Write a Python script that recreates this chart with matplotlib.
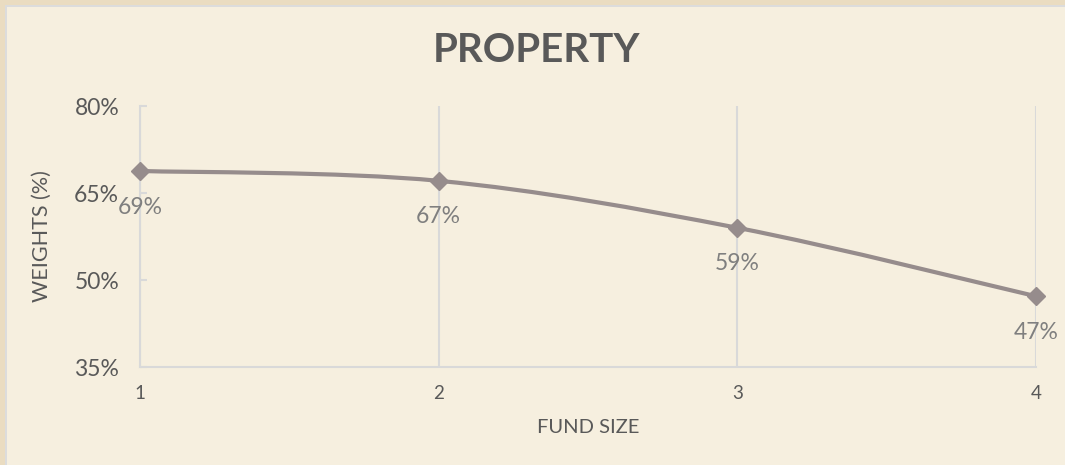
import matplotlib
matplotlib.use("Agg")
import matplotlib.pyplot as plt
from matplotlib.path import Path
from matplotlib.patches import PathPatch, Rectangle

# data
fund_size = [1, 2, 3, 4]
weights = [68.8, 67.1, 59.0, 47.2]
labels = ["69%", "67%", "59%", "47%"]
y_ticks = [35, 50, 65, 80]
y_tick_labels = ["35%", "50%", "65%", "80%"]

plt.rcParams['font.family'] = ['Lato', 'DejaVu Sans']

bg = "#f6efdf"
line_col = "#968c8c"
text_col = "#595959"

fig = plt.figure(figsize=(10.65, 4.65), dpi=100, facecolor=bg)

# frame strips at top and left
fig.patches.append(Rectangle((0, 1 - 5 / 465), 1, 5 / 465, transform=fig.transFigure,
                             facecolor="#eadcc1", edgecolor="none", zorder=0))
fig.patches.append(Rectangle((0, 0), 5 / 1065, 1, transform=fig.transFigure,
                             facecolor="#eadcc1", edgecolor="none", zorder=0))
fig.patches.append(Rectangle((5 / 1065, 1 - 7 / 465), 1, 2 / 465, transform=fig.transFigure,
                             facecolor="#dcdcdc", edgecolor="none", zorder=0))
fig.patches.append(Rectangle((5 / 1065, 0), 2 / 1065, 1 - 5 / 465, transform=fig.transFigure,
                             facecolor="#dcdcdc", edgecolor="none", zorder=0))

ax = fig.add_axes([140 / 1065, 1 - 367 / 465, (1036 - 140) / 1065, (367 - 106) / 465])
ax.set_facecolor(bg)
ax.set_xlim(1, 4)
ax.set_ylim(35, 80)

# smoothed line (bezier through the points, like Excel)
pts = list(zip(fund_size, weights))
verts = [pts[0]]
codes = [Path.MOVETO]
for i in range(len(pts) - 1):
    p0 = pts[i - 1] if i > 0 else pts[i]
    p1 = pts[i]
    p2 = pts[i + 1]
    p3 = pts[i + 2] if i + 2 < len(pts) else pts[i + 1]
    c1 = (p1[0] + (p2[0] - p0[0]) / 6, p1[1] + (p2[1] - p0[1]) / 6)
    c2 = (p2[0] - (p3[0] - p1[0]) / 6, p2[1] - (p3[1] - p1[1]) / 6)
    verts += [c1, c2, p2]
    codes += [Path.CURVE4] * 3
ax.add_patch(PathPatch(Path(verts, codes), facecolor="none", edgecolor=line_col,
                       lw=3, capstyle="round", zorder=3, clip_on=False))
ax.plot(fund_size, weights, linestyle="none", marker="D", markersize=9.5,
        color=line_col, zorder=4, clip_on=False)

for x, y, t in zip(fund_size, weights, labels):
    ax.annotate(t, (x, y), xytext=(0, -26), textcoords="offset points",
                ha="center", va="center", fontsize=16.5, color="#7f7f7f", zorder=5)

ax.set_xticks(fund_size)
ax.set_xticklabels([str(v) for v in fund_size])
ax.set_yticks(y_ticks)
ax.set_yticklabels(y_tick_labels)
ax.grid(axis="x", color="#d9d9d9", lw=1.5)
ax.set_axisbelow(True)
for s in ["top", "right"]:
    ax.spines[s].set_visible(False)
ax.spines["left"].set_color("#d9d9d9")
ax.spines["bottom"].set_color("#d9d9d9")
ax.spines["left"].set_linewidth(1.5)
ax.spines["bottom"].set_linewidth(1.5)
ax.tick_params(axis="y", direction="in", length=5, color="#d9d9d9", width=1.5,
               labelsize=16.5, labelcolor=text_col, pad=15)
ax.tick_params(axis="x", length=0, labelsize=13.5, labelcolor=text_col, pad=13)

ax.set_xlabel("FUND SIZE", fontsize=14.5, color=text_col, labelpad=12)
ax.set_ylabel("WEIGHTS (%)", fontsize=15.5, color=text_col, labelpad=16)

fig.text(537 / 1065, 1 - 50 / 465, "PROPERTY", ha="center", va="center",
         fontsize=29, fontweight="bold", color=text_col)

fig.savefig("out.png", dpi=100, facecolor=bg)
